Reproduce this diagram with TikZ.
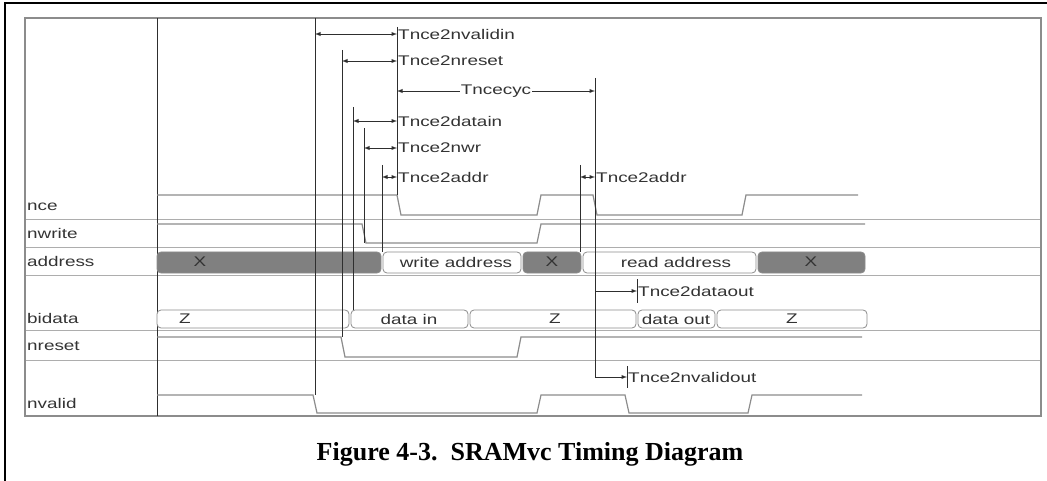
\documentclass[tikz,border=0pt]{standalone}
\usepackage{fontspec}
\setmainfont{Liberation Serif}
\newfontfamily\sigfont{Liberation Sans}[FakeStretch=1.35]
\usetikzlibrary{arrows}

\definecolor{ink}{gray}{0.2}
\definecolor{wave}{gray}{0.55}
\definecolor{rule}{gray}{0.68}
\definecolor{tick}{gray}{0.18}
\definecolor{xfill}{gray}{0.5}

\begin{document}
\begin{tikzpicture}[x=1pt,
            y=-1pt,
            >=latex,
            lbl/.style={anchor=west, inner sep=1pt, text=ink,
                        font=\sigfont\fontsize{14}{16}\selectfont},
            buslbl/.style={inner sep=0pt, text=ink,
                        font=\sigfont\fontsize{14}{16}\selectfont},
            sig/.style={draw=wave, line width=1.2pt},
            divider/.style={draw=rule, line width=0.9pt},
            tline/.style={draw=tick, line width=0.9pt},
            busx/.style={draw=wave, fill=xfill, rounded corners=4pt, line width=0.8pt},
            busw/.style={draw=wave, fill=white, rounded corners=4pt, line width=0.8pt}]

        \useasboundingbox (0,0) rectangle (1047,481);

        % outer frame and panel
        \draw[black, line width=2.5pt] (5,481) -- (5,3) -- (1047,3);
        \draw[divider] (25,219) -- (1041,219)
                       (25,247) -- (1041,247)
                       (25,275) -- (1041,275)
                       (25,330) -- (1041,330)
                       (25,360) -- (1041,360);
        \draw[draw=wave, line width=1.6pt] (25,18) rectangle (1041,416);
        \draw[tline] (157,18) -- (157,416);

        % signal names
        \node[lbl] (nce)     at (26,207) {nce};
        \node[lbl] (nwrite)  at (26,233) {nwrite};
        \node[lbl] (address) at (26,261) {address};
        \node[lbl] (bidata)  at (26,318) {bidata};
        \node[lbl] (nreset)  at (26,346) {nreset};
        \node[lbl] (nvalid)  at (26,403) {nvalid};

        % waveforms
        \draw[sig] (157,195) -- (397,195) -- (401,215) -- (537,215) -- (541,195)
                   -- (593,195) -- (597,215) -- (742,215) -- (746,195) -- (858,195);
        \draw[sig] (157,224) -- (362,224) -- (366,243) -- (537,243) -- (541,224) -- (865,224);
        \draw[sig] (157,337) -- (341,337) -- (345,357) -- (517,357) -- (521,337) -- (862,337);
        \draw[sig] (157,395) -- (313,395) -- (317,413) -- (537,413) -- (541,395)
                   -- (625,395) -- (629,413) -- (748,413) -- (752,395) -- (862,395);

        % address bus
        \draw[busx] (157,252) rectangle (381,273);
        \draw[busw] (383,252) rectangle (521,273);
        \draw[busx] (523,252) rectangle (581,273);
        \draw[busw] (583,252) rectangle (756,273);
        \draw[busx] (758,252) rectangle (865,273);
        \node[buslbl] (ax1) at (200,262) {X};
        \node[buslbl] (aw)  at (456,262) {write address};
        \node[buslbl] (ax2) at (552,262) {X};
        \node[buslbl] (ar)  at (676,262) {read address};
        \node[buslbl] (ax3) at (811,262) {X};

        % bidata bus
        \draw[busw] (157,310) rectangle (349,328);
        \draw[busw] (351,310) rectangle (468,328);
        \draw[busw] (470,310) rectangle (636,328);
        \draw[busw] (638,310) rectangle (715,328);
        \draw[busw] (717,310) rectangle (867,328);
        \node[buslbl] (dz1)  at (185,319) {Z};
        \node[buslbl] (din)  at (409,319) {data in};
        \node[buslbl] (dz2)  at (555,319) {Z};
        \node[buslbl] (dout) at (676,319) {data out};
        \node[buslbl] (dz3)  at (792,319) {Z};

        % timing marks
        \draw[tline] (315,18) -- (315,395);
        \draw[tline] (342,50) -- (342,337);
        \draw[tline] (353,107) -- (353,310);
        \draw[tline] (364,128) -- (364,243);
        \draw[tline] (382,165) -- (382,252);
        \draw[tline] (397,27) -- (397,195);
        \draw[tline] (580,165) -- (580,252);
        \draw[tline] (637,279) -- (637,303);
        \draw[tline] (627,366) -- (627,388);

        \coordinate (vin)  at (315,34);
        \coordinate (rst)  at (342,61);
        \coordinate (cyca) at (397,91);
        \coordinate (cycb) at (595,91);
        \coordinate (dat)  at (353,121);
        \coordinate (wr)   at (364,148);
        \coordinate (ad1)  at (382,177);
        \coordinate (ad2)  at (580,177);
        \coordinate (ctop) at (595,78);
        \coordinate (cout) at (595,291);
        \coordinate (cvo)  at (595,377);

        \node[lbl] (tvin) at (397,34)  {Tnce2nvalidin};
        \node[lbl] (trst) at (397,61)  {Tnce2nreset};
        \node[lbl] (tdat) at (397,121) {Tnce2datain};
        \node[lbl] (twr)  at (397,148) {Tnce2nwr};
        \node[lbl] (tad1) at (397,177) {Tnce2addr};
        \node[lbl] (tad2) at (595,177) {Tnce2addr};
        \node[lbl] (tdo)  at (637,291) {Tnce2dataout};
        \node[lbl] (tvo)  at (627,377) {Tnce2nvalidout};

        \draw[tline, <->] (vin) -- (tvin.west);
        \draw[tline, <->] (rst) -- (trst.west);
        \draw[tline, <->] (dat) -- (tdat.west);
        \draw[tline, <->] (wr)  -- (twr.west);
        \draw[tline, <->] (ad1) -- (tad1.west);
        \draw[tline, <->] (ad2) -- (tad2.west);
        \draw[tline, <->] (cyca) -- (cycb);
        \draw[tline] (ctop) -- (cvo);
        \draw[tline, ->] (cout) -- (tdo.west);
        \draw[tline, ->] (cvo) -- (tvo.west);
        \node[lbl, anchor=center, fill=white] (tcyc) at (496,91) {Tncecyc};

        % caption
        \node[anchor=base, inner sep=0pt] (cap) at (530,460)
            {\fontsize{26}{30}\selectfont\bfseries Figure 4-3.\ \ SRAMvc Timing Diagram};

    \end{tikzpicture}
\end{document}
